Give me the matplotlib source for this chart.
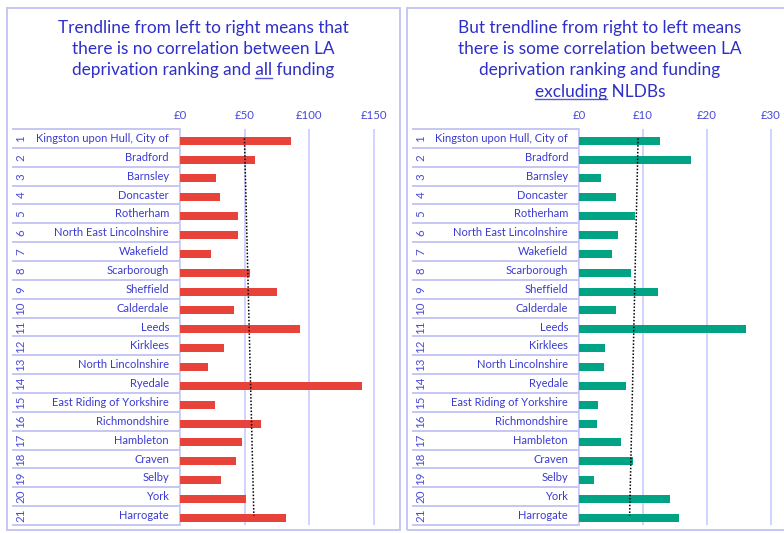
import numpy as np
import matplotlib
matplotlib.use('Agg')
import matplotlib.pyplot as plt
from matplotlib.patches import Rectangle
from matplotlib.lines import Line2D

plt.rcParams['font.family'] = ['Lato', 'DejaVu Sans']

# data
ranks = list(range(1, 22))
areas = ["Kingston upon Hull, City of", "Bradford", "Barnsley", "Doncaster", "Rotherham",
         "North East Lincolnshire", "Wakefield", "Scarborough", "Sheffield", "Calderdale",
         "Leeds", "Kirklees", "North Lincolnshire", "Ryedale", "East Riding of Yorkshire",
         "Richmondshire", "Hambleton", "Craven", "Selby", "York", "Harrogate"]
all_funding = [86, 58, 28, 31, 45, 45, 24, 54, 75, 42, 93, 34, 22, 141, 27, 63, 48, 43, 32, 51, 82]
excl_nldb = [12.7, 17.5, 3.4, 5.8, 8.8, 6.1, 5.2, 8.1, 12.3, 5.8, 26.1, 4.1, 3.9, 7.3, 3.0,
             2.8, 6.6, 8.4, 2.3, 14.2, 15.6]
left_ticks = [0, 50, 100, 150]
right_ticks = [0, 10, 20, 30]
left_title = ["Trendline from left to right means that",
              "there is no correlation between LA",
              "deprivation ranking and all funding"]
right_title = ["But trendline from right to left means",
               "there is some correlation between LA",
               "deprivation ranking and funding",
               "excluding NLDBs"]

W, H = 784, 533
TITLE_C = '#2e2ec8'
TEXT_C = '#3a3ad2'
GRID_C = '#d2d2ff'
LINE_C = '#c6c6f4'
TITLE_FS = 12.4

fig = plt.figure(figsize=(W / 100, H / 100), dpi=100)
fig.patch.set_facecolor('white')


def fx(px):
    return px / W


def fy(py):
    return 1 - py / H


def add_title(lines, cx, y0, underline):
    r = fig.canvas.get_renderer()
    for i, ln in enumerate(lines):
        y = y0 + i * 21.2
        t = fig.text(fx(cx), fy(y), ln, ha='center', va='center', fontsize=TITLE_FS, color=TITLE_C)
        if underline and underline[0] == i:
            word = underline[1]
            end = ln.index(word) + len(word)
            def width(s):
                tt = fig.text(0, 0, s, fontsize=TITLE_FS)
                w = tt.get_window_extent(r).width
                tt.remove()
                return w
            full = t.get_window_extent(r).width
            left = cx - full / 2
            x1 = left + width(ln[:end])
            x0 = x1 - width(word)
            fig.add_artist(Line2D([fx(x0), fx(x1)], [fy(y + 7.5)] * 2, color='#5a5ad8',
                                  lw=1.0, transform=fig.transFigure))


def add_panel(x_right, tab_left, zero_px, px_per_unit, values, ticks, color, fmt):
    top, bottom = 129, 525
    n = len(values)
    # table
    tab = fig.add_axes([fx(tab_left), fy(bottom), fx(zero_px - tab_left), (bottom - top) / H])
    tab.set_xlim(0, 1)
    tab.set_ylim(n + 0.5, 0.5)
    tab.axis('off')
    for b in np.arange(0.5, n + 1.0, 1.0):
        tab.axhline(b, color=LINE_C, lw=1.4, clip_on=False)
    tab.axvline(1, color=LINE_C, lw=1.4)
    w_tab = zero_px - tab_left
    for i, (rk, nm) in enumerate(zip(ranks, areas)):
        tab.text(8 / w_tab, i + 1, str(rk), rotation=90, ha='center', va='center',
                 fontsize=8.3, color='#4a4ad8')
        tab.text(1 - 11 / w_tab, i + 1, nm, ha='right', va='center', fontsize=8.0, color=TEXT_C)

    # bars
    ax = fig.add_axes([fx(zero_px), fy(bottom), fx(x_right - zero_px), (bottom - top) / H])
    ax.set_xlim(0, (x_right - zero_px) / px_per_unit)
    ax.set_ylim(n + 0.5, 0.5)
    ax.barh(np.array(ranks) + 0.12, values, height=0.42, color=color, zorder=2)
    for t in ticks:
        ax.axvline(t, color=GRID_C, lw=1.4, zorder=1)
    ax.set_xticks(ticks)
    ax.set_xticklabels([fmt.format(t) for t in ticks], fontsize=8.2, color='#4a4ad8')
    ax.xaxis.tick_top()
    ax.tick_params(axis='x', length=0, pad=6)
    ax.set_yticks([])
    for s in ax.spines.values():
        s.set_visible(False)
    # linear trend of value against rank
    k, c = np.polyfit(ranks, values, 1)
    rr = np.array([ranks[0], ranks[-1]])
    ax.plot(k * rr + c, rr, color='black', lw=1.1, ls=(0, (1, 1.2)), zorder=3)


# panel frames
fig.add_artist(Rectangle((fx(7), fy(530)), fx(400 - 7), (530 - 8) / H, fill=False,
                         ec=LINE_C, lw=1.4, transform=fig.transFigure))
fig.add_artist(Rectangle((fx(407), fy(530)), fx(400), (530 - 8) / H, fill=False,
                         ec=LINE_C, lw=1.4, transform=fig.transFigure))

add_panel(395, 13, 180, 1.292, all_funding, left_ticks, '#e8433a', '£{}')
add_panel(784, 413, 579, 6.4, excl_nldb, right_ticks, '#00a383', '£{}')

add_title(left_title, 203, 28, (2, 'all'))
add_title(right_title, 600, 28, (3, 'excluding'))

fig.savefig('out.png', dpi=100)
